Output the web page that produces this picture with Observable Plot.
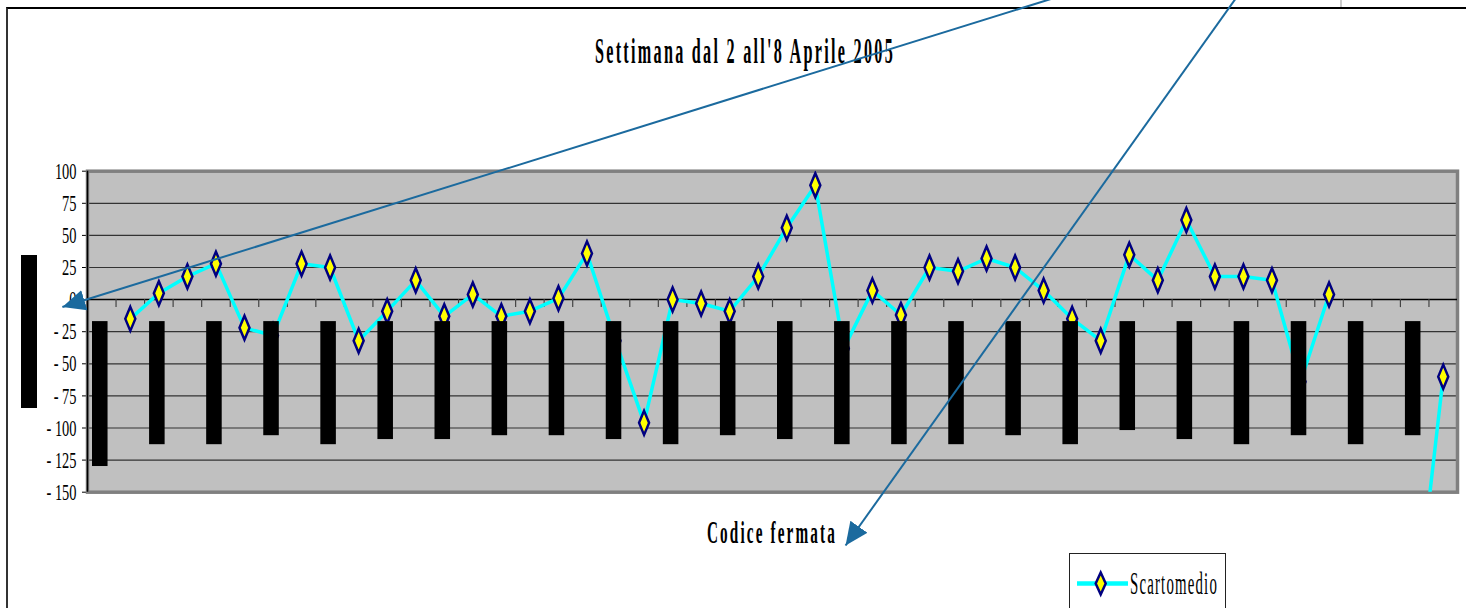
<!DOCTYPE html>
<html>
<head>
<meta charset="utf-8">
<script src="https://cdn.jsdelivr.net/npm/d3@7"></script>
<script src="https://cdn.jsdelivr.net/npm/@observablehq/plot@0.6"></script>
<style>
html, body { margin: 0; padding: 0; background: #fff; overflow: hidden; }
#wrap { position: relative; width: 1466px; height: 608px; overflow: hidden; background: #fff; }
.txt { position: absolute; white-space: nowrap; font-family: "Liberation Serif", "Times New Roman", serif; line-height: 1; transform-origin: 0 0; color: #000; z-index: 1; }
#border { position: absolute; left: 6px; top: 7px; right: -10px; bottom: -10px; border-top: 2px solid #000; border-left: 2px solid #333; z-index: 0; }
#corner { position: absolute; left: 1340px; top: 0; width: 2px; height: 7px; background: #ccc; }
#ytitle { position: absolute; left: 21px; top: 255px; width: 16px; height: 153px; background: #000; z-index: 3; }
#legend { position: absolute; left: 1069px; top: 553px; width: 155px; height: 80px; border: 1px solid #222; background: #fff; z-index: 3; }
#legendSwatch { position: absolute; left: 0; top: 0; z-index: 4; }
#plot { position: absolute; left: 0; top: 0; z-index: 2; }
</style>
</head>
<body>
<div id="wrap">
  <div id="border"></div>
  <div id="corner"></div>
  <div id="title" class="txt" style="font-size:35px;font-weight:bold;top:34px;letter-spacing:0.14em;">Settimana dal 2 all'8 Aprile 2005</div>
  <div id="xlab" class="txt" style="font-size:32px;font-weight:bold;top:516px;letter-spacing:0.14em;">Codice fermata</div>
  <div id="ytitle"></div>
  <div id="legend"></div>
  <svg id="legendSwatch" width="1466" height="608" style="pointer-events:none"></svg>
  <div id="legText" class="txt" style="font-size:31px;top:568px;z-index:5;letter-spacing:0.08em;">Scartomedio</div>
  <div id="plot"></div>
</div>
<script>
// ---- Data ----
// "Scarto medio" per stop (48 stops, codes obscured in the original); null = no point
const scarto = [null, -15, 5, 18, 28, -22, -28, 28, 25, -32, -9, 15, -13, 4, -13, -9,
                1, 36, -32, -96, 0, -3, -9, 18, 56, 89, -38, 7, -12, 25, 22, 32,
                25, 7, -15, -32, 35, 15, 62, 18, 18, 15, -64, 4, null, null, -254, -60];
// Stops whose (obscured, black) category labels are shown
const labelCats = [0, 2, 4, 6, 8, 10, 12, 14, 16, 18, 20, 22, 24, 26, 28, 30, 32, 34, 36, 38, 40, 42, 44, 46];
// Where each obscured label block ends on the y scale
const labelEnd = [-130, -113, -113, -106, -113, -109, -109, -106, -106, -109, -113, -106,
                  -109, -113, -113, -113, -106, -113, -102, -109, -113, -106, -113, -106];
// Y axis tick values
const yTicks = [100, 75, 50, 25, 0, -25, -50, -75, -100, -125, -150];
// Annotation arrows (data coordinates: stop index, value)
const arrowsData = [
  {x1: 33.31, y1: 234.5, x2: -1.38, y2: -5.8},
  {x1: 39.73, y1: 234.5, x2: 26.06, y2: -191.5}
];

const series = scarto.map((v, i) => ({i, v}));
const labels = labelCats.map((c, j) => ({i: c, end: labelEnd[j]}));
const boundaries = d3.range(0.5, scarto.length - 1, 1);

const diamond = {
  draw(ctx) {
    ctx.moveTo(0, -12); ctx.lineTo(5, 0); ctx.lineTo(0, 12); ctx.lineTo(-5, 0); ctx.closePath();
  }
};

const fmt = d => d < 0 ? "- " + (-d) : String(d);

const svg = Plot.plot({
  width: 1466,
  height: 608,
  marginLeft: 87,
  marginRight: 9,
  marginTop: 170.7,
  marginBottom: 116.3,
  style: {background: "transparent", fontFamily: "Liberation Serif", fontSize: "24px", color: "#000"},
  x: {domain: [-0.5, scarto.length - 0.5], axis: null},
  y: {domain: [-150, 100], ticks: yTicks, tickFormat: fmt, tickSize: 5, tickPadding: 6, label: null},
  marks: [
    Plot.frame({fill: "#c0c0c0"}),
    Plot.ruleY(yTicks.filter(v => v !== 0), {stroke: "#333", strokeWidth: 1.2}),
    Plot.frame({stroke: "#808080", strokeWidth: 3.5}),
    Plot.ruleY([0], {stroke: "#000", strokeWidth: 1.5}),
    Plot.ruleX(boundaries, {y1: 0, y2: 0, insetBottom: -8, stroke: "#444", strokeWidth: 1.2}),
    Plot.ruleX([-0.5], {stroke: "#000", strokeWidth: 1.5}),
    Plot.line(series, {x: "i", y: "v", stroke: "#00ffff", strokeWidth: 3.5, clip: true}),
    Plot.dot(series.filter(d => d.v != null), {x: "i", y: "v", symbol: diamond, fill: "#ffff00", stroke: "#000080", strokeWidth: 2.5, clip: true}),
    Plot.rect(labels, {x1: d => d.i - 0.5, x2: d => d.i + 0.5, y1: 0, y2: "end", insetTop: 22, insetLeft: 5, insetRight: 8, fill: "#000"}),
    Plot.link(arrowsData, {x1: "x1", y1: "y1", x2: "x2", y2: "y2", stroke: "#1b6a9e", strokeWidth: 2})
  ]
});
document.getElementById("plot").appendChild(svg);

// arrowheads (filled triangles)
const s = d3.select(svg);
const defs = s.insert("defs", ":first-child");
defs.append("marker")
  .attr("id", "ah").attr("viewBox", "0 -12 24 24").attr("refX", 23).attr("refY", 0)
  .attr("markerWidth", 24).attr("markerHeight", 24).attr("markerUnits", "userSpaceOnUse")
  .attr("orient", "auto")
  .append("path").attr("d", "M0,-10.5L23,0L0,10.5Z").attr("fill", "#1b6a9e");
s.selectAll('g[aria-label="link"] path, g[aria-label="link"] line').attr("marker-end", "url(#ah)");

// condensed tick labels
s.selectAll('g[aria-label^="y-axis"] text').each(function () {
  const L = this.getComputedTextLength();
  this.setAttribute("textLength", L * 0.6);
  this.setAttribute("lengthAdjust", "spacingAndGlyphs");
});

// condensed HTML texts
function condense(id, left, width) {
  const el = document.getElementById(id);
  el.style.left = left + "px";
  const w = el.getBoundingClientRect().width;
  el.style.transform = "scaleX(" + (width / w) + ")";
}
condense("title", 595, 300);
condense("xlab", 707, 130);
condense("legText", 1130, 88);

// legend swatch
const sw = d3.select("#legendSwatch");
sw.append("line").attr("x1", 1077).attr("x2", 1128).attr("y1", 583.5).attr("y2", 583.5)
  .attr("stroke", "#00ffff").attr("stroke-width", 4.5);
sw.append("path").attr("transform", "translate(1100.7,583.5)")
  .attr("d", "M0,-11L5,0L0,11L-5,0Z").attr("fill", "#ffff00").attr("stroke", "#000080").attr("stroke-width", 2.5);
</script>
</body>
</html>
